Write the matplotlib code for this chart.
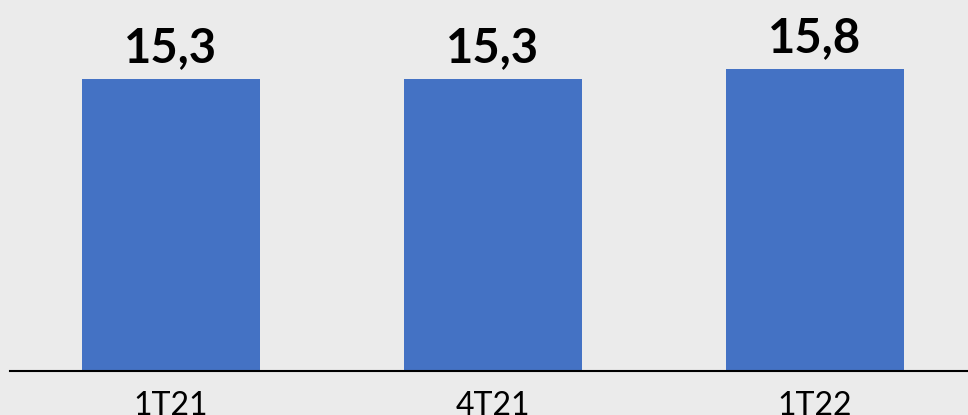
import matplotlib
matplotlib.use('Agg')
import matplotlib.pyplot as plt

# Data
quarters = ['1T21', '4T21', '1T22']
values = [15.3, 15.3, 15.8]
valueLabels = ['15,3', '15,3', '15,8']

barColor = '#4472C4'
bgColor = '#ebebeb'

fig = plt.figure(figsize=(9.68, 4.15), dpi=100)
fig.patch.set_facecolor(bgColor)
ax = fig.add_axes([10/968, 44/415, 966/968, 363/415])
ax.set_facecolor(bgColor)

positions = list(range(len(quarters)))
bars = ax.bar(positions, values, width=0.553, color=barColor)

# value labels above the bars
for x, v, lab in zip(positions, values, valueLabels):
    ax.annotate(lab, xy=(x, v), xytext=(0, 12), textcoords='offset points',
                ha='center', va='baseline', fontsize=34, fontweight='bold',
                family='Lato', color='black')

ax.set_xlim(-0.5, 2.5)
ax.set_ylim(0, 19)
ax.set_xticks(positions)
ax.set_xticklabels(quarters, family='Lato', fontsize=23)
ax.tick_params(axis='x', length=0, pad=14.5)
ax.set_yticks([])
for side in ['top', 'right', 'left']:
    ax.spines[side].set_visible(False)
ax.spines['bottom'].set_linewidth(1.5)
ax.spines['bottom'].set_color('black')

fig.savefig('out.png', dpi=100, facecolor=bgColor)
